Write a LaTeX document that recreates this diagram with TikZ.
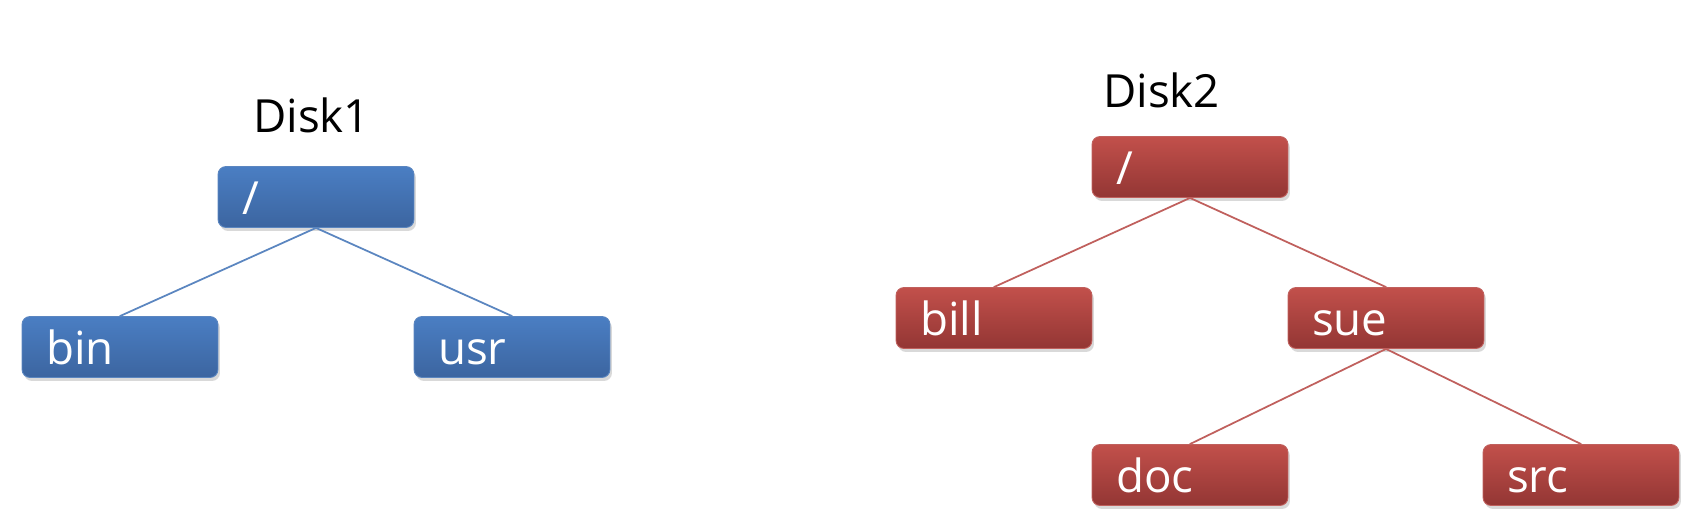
\documentclass[tikz,border=0pt]{standalone}
\usepackage{fontspec}
\setmainfont{Open Sans}
\usetikzlibrary{shadows}
\definecolor{bluetop}{HTML}{4A7EC3}
\definecolor{bluebot}{HTML}{3C65A0}
\definecolor{blueline}{HTML}{5B86C0}
\definecolor{redtop}{HTML}{C2504B}
\definecolor{redbot}{HTML}{933634}
\definecolor{redline}{HTML}{C0605D}
\begin{document}
\begin{tikzpicture}[x=0.02cm, y=-0.02cm, font=\fontsize{26}{30}\selectfont, line join=round, line cap=round,
		dir/.style={rectangle, rounded corners=0.16cm, text=white, text width=2.96cm, inner xsep=0.48cm,
			minimum height=1.22cm, text height=0.72cm, text depth=0cm, align=left,
			drop shadow={opacity=0.3, shadow xshift=0.04cm, shadow yshift=-0.07cm}},
		bluedir/.style={dir, top color=bluetop, bottom color=bluebot, draw=blueline, line width=0.5pt},
		reddir/.style={dir, top color=redtop, bottom color=redbot, draw=redline, line width=0.5pt}]
		\useasboundingbox (0,0) rectangle (1698,526);
		% Disk1
		\node[anchor=base west] (disk1) at (247,133) {Disk1};
		\node[bluedir] (root1) at (316,197) {/};
		\node[bluedir] (bin) at (120,347) {bin};
		\node[bluedir] (usr) at (512,347) {usr};
		\draw[blueline, line width=1pt] (root1.south)--(bin.north);
		\draw[blueline, line width=1pt] (root1.south)--(usr.north);
		% Disk2
		\node[anchor=base west] (disk2) at (1097,108) {Disk2};
		\node[reddir] (root2) at (1190,167) {/};
		\node[reddir] (bill) at (994,318) {bill};
		\node[reddir] (sue) at (1386,318) {sue};
		\node[reddir] (doc) at (1190,475) {doc};
		\node[reddir] (src) at (1581,475) {src};
		\draw[redline, line width=1pt] (root2.south)--(bill.north);
		\draw[redline, line width=1pt] (root2.south)--(sue.north);
		\draw[redline, line width=1pt] (sue.south)--(doc.north);
		\draw[redline, line width=1pt] (sue.south)--(src.north);
	\end{tikzpicture}
\end{document}
